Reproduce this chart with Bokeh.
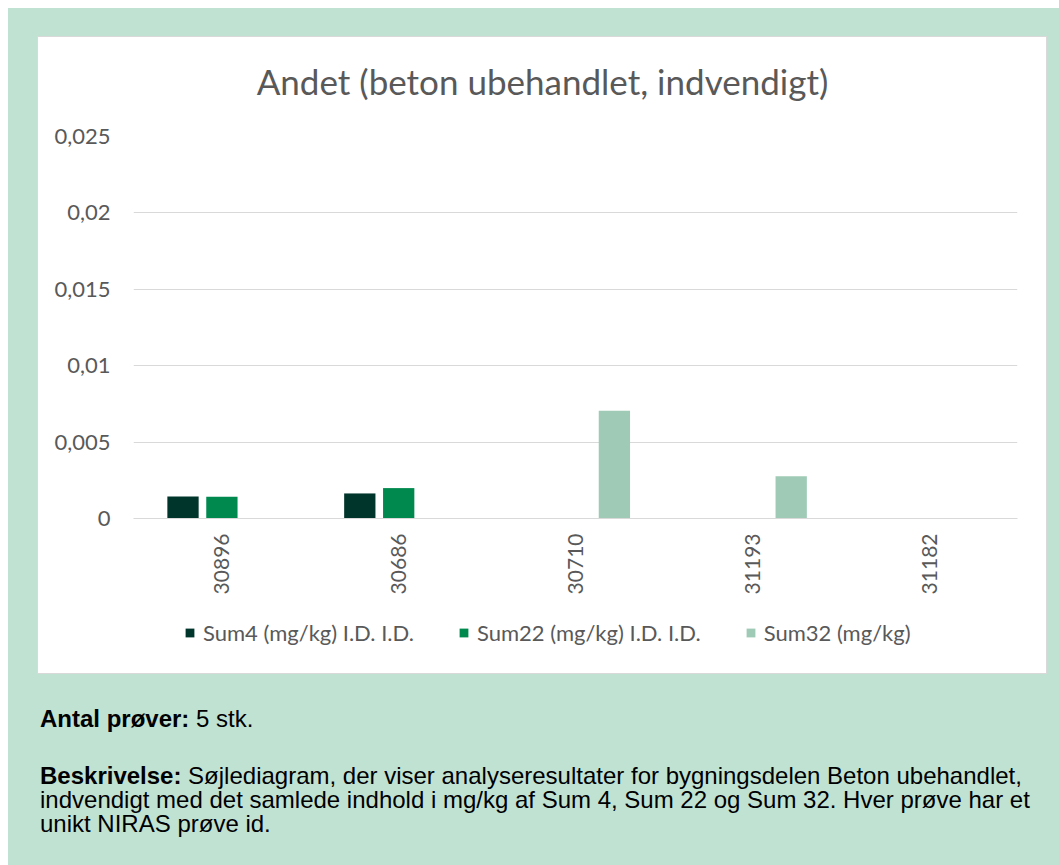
import math
from bokeh.plotting import figure
from bokeh.models import (FactorRange, FixedTicker, CustomJSTickFormatter, Legend,
                          LegendItem, Div, ColumnDataSource, Range1d, Label)
from bokeh.layouts import column
from bokeh.transform import dodge
from bokeh.embed import file_html
from bokeh.resources import INLINE

samples = ["30896", "30686", "30710", "31193", "31182"]
sum4 = [0.00144, 0.00164, 0, 0, 0]
sum22 = [0.00143, 0.00199, 0, 0, 0]
sum32 = [0, 0, 0.00705, 0.00277, 0]
series_names = ["Sum4 (mg/kg) I.D. I.D.", "Sum22 (mg/kg) I.D. I.D.", "Sum32 (mg/kg)"]
colors = ["#00352b", "#00894f", "#9fcab5"]
y_ticks = [0, 0.005, 0.01, 0.015, 0.02, 0.025]
title_text = "Andet (beton ubehandlet, indvendigt)"

FONT = "Lato"
TXT = "#595959"
GRID = "#d9d9d9"


def strip(height):
    f = figure(width=1008, height=height, output_backend="svg", toolbar_location=None,
               x_range=Range1d(0, 884), y_range=Range1d(0, height),
               x_axis_type=None, y_axis_type=None,
               min_border_left=95, min_border_right=29, min_border_top=0, min_border_bottom=0,
               background_fill_alpha=0, border_fill_alpha=0)
    f.margin = 0
    f.outline_line_color = None
    f.grid.visible = False
    return f


# title strip
tt = strip(84)
tt.add_layout(Label(x=409, y=41, text=title_text, text_align="center", text_baseline="middle",
                    text_font=FONT, text_font_size="35px", text_color=TXT))

# main chart
src = ColumnDataSource(dict(x=samples, s4=sum4, s22=sum22, s32=sum32))
p = figure(x_range=FactorRange(factors=samples, range_padding=0), y_range=(0, 0.025),
           width=1008, height=489, output_backend="svg", toolbar_location=None,
           min_border_left=95, min_border_right=29, min_border_top=15, min_border_bottom=92,
           background_fill_alpha=0, border_fill_alpha=0)
p.margin = 0
p.outline_line_color = None

renderers = []
for col, off, c in zip(["s4", "s22", "s32"], [-0.22, 0.0, 0.22], colors):
    r = p.vbar(x=dodge("x", off, range=p.x_range), top=col, width=0.177, source=src,
               fill_color=c, line_color=None)
    renderers.append(r)

p.yaxis.ticker = FixedTicker(ticks=y_ticks)
p.yaxis.formatter = CustomJSTickFormatter(
    code="return (Math.round(tick*1000)/1000).toString().replace('.', ',');")
p.yaxis.axis_line_color = None
p.yaxis.major_tick_line_color = None
p.yaxis.minor_tick_line_color = None
p.yaxis.major_label_standoff = 17
p.yaxis.major_label_text_font = FONT
p.yaxis.major_label_text_font_size = "22px"
p.yaxis.major_label_text_color = TXT

p.xaxis.axis_line_color = GRID
p.xaxis.axis_line_width = 1
p.xaxis.major_tick_line_color = None
p.xaxis.minor_tick_line_color = None
p.xaxis.major_label_orientation = math.pi / 2
p.xaxis.major_label_standoff = 9
p.xaxis.major_label_text_font = FONT
p.xaxis.major_label_text_font_size = "21px"
p.xaxis.major_label_text_color = TXT

p.xgrid.grid_line_color = None
p.ygrid.grid_line_color = GRID
p.ygrid.grid_line_width = 1

# legend strip (dummy renderers of zero size only provide the legend swatches)
lg = strip(63)
dummy = []
for c in colors:
    dummy.append(lg.vbar(x=[400], bottom=[0], top=[0], width=0, fill_color=c, line_color=None))

legend = Legend(items=[LegendItem(label=n, renderers=[r]) for n, r in zip(series_names, dummy)],
                orientation="horizontal", location=(51, 27),
                label_text_font=FONT, label_text_font_size="22px", label_text_color=TXT,
                glyph_width=11, glyph_height=11, label_standoff=8, spacing=44,
                padding=0, margin=0, border_line_color=None, background_fill_alpha=0)
lg.add_layout(legend)

chart_box = column(tt, p, lg, spacing=0, margin=(29, 0, 0, 30),
                   styles={"background-color": "white", "outline": "1px solid #d9d9d9"})

html = (
    "<div style=\"font-family:'Liberation Sans',Arial,sans-serif;font-size:24px;"
    "line-height:24px;color:#000;white-space:nowrap;\">"
    "<div><b>Antal prøver:</b> 5 stk.</div>"
    "<div style=\"margin-top:33px\"><b>Beskrivelse:</b> Søjlediagram, der viser analyseresultater "
    "for bygningsdelen Beton ubehandlet,<br>indvendigt med det samlede indhold i mg/kg af Sum 4, "
    "Sum 22 og Sum 32. Hver prøve har et<br>unikt NIRAS prøve id.</div></div>"
)
div = Div(text=html, width=1000, margin=(34, 0, 0, 32))

layout = column(chart_box, div, width=1051, height=857, spacing=0, margin=(8, 0, 0, 8),
                styles={"background-color": "#c0e2d3"})

open("out.html", "w").write(file_html(layout, INLINE))
